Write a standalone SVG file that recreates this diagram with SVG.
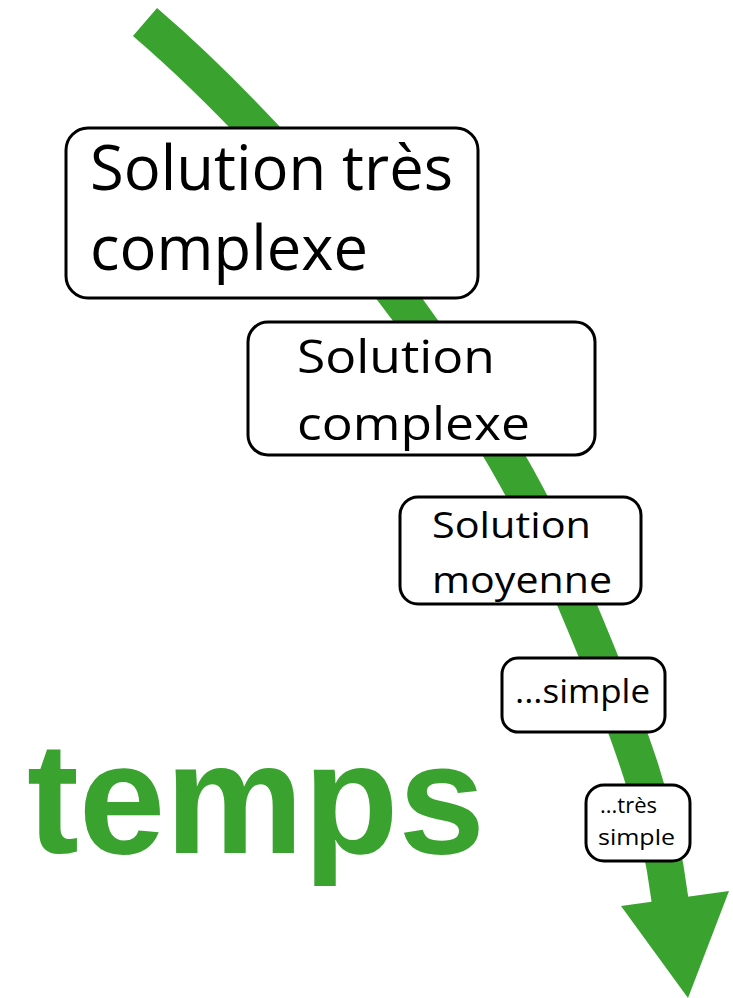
<svg xmlns="http://www.w3.org/2000/svg" width="733" height="998" viewBox="0 0 733 998">
<style>
.box{fill:#fff;stroke:#000;stroke-width:3}
.t{font-family:"Open Sans","Noto Sans","Liberation Sans",sans-serif;fill:#000}
</style>
<rect width="733" height="998" fill="#fff"/>
<g id="connectors">
<path d="M145,22 C300,155 480,380 560,565 S660,820 670,900" fill="none" stroke="#3aa22f" stroke-width="37"/>
<polygon points="621,906 729,891 688,998" fill="#3aa22f"/>
</g>
<g id="temps">
<text x="27" y="853" font-family="Liberation Sans,Arial,sans-serif" font-weight="bold" font-size="158" fill="#3aa22f" textLength="458" lengthAdjust="spacingAndGlyphs">temps</text>
</g>
<g id="n1">
<rect class="box" x="66" y="128" width="412" height="170" rx="22"/>
<text class="t" x="90" y="190" font-size="62" textLength="363" lengthAdjust="spacingAndGlyphs">Solution très</text>
<text class="t" x="90" y="270" font-size="62" textLength="278" lengthAdjust="spacingAndGlyphs">complexe</text>
</g>
<g id="n2">
<rect class="box" x="248" y="322" width="347" height="133" rx="20"/>
<text class="t" x="297" y="373" font-size="46" textLength="198" lengthAdjust="spacingAndGlyphs">Solution</text>
<text class="t" x="297" y="440" font-size="46" textLength="233" lengthAdjust="spacingAndGlyphs">complexe</text>
</g>
<g id="n3">
<rect class="box" x="400" y="497" width="241" height="107" rx="18"/>
<text class="t" x="432" y="538" font-size="37" textLength="159" lengthAdjust="spacingAndGlyphs">Solution</text>
<text class="t" x="432" y="593" font-size="37" textLength="180" lengthAdjust="spacingAndGlyphs">moyenne</text>
</g>
<g id="n4">
<rect class="box" x="502" y="658" width="163" height="74" rx="16"/>
<text class="t" x="515" y="703" font-size="33" textLength="135" lengthAdjust="spacingAndGlyphs">...simple</text>
</g>
<g id="n5">
<rect class="box" x="586" y="785" width="104" height="76" rx="18"/>
<text class="t" x="600" y="813" font-size="22" textLength="57" lengthAdjust="spacingAndGlyphs">...très</text>
<text class="t" x="598" y="845" font-size="22" textLength="77" lengthAdjust="spacingAndGlyphs">simple</text>
</g>
</svg>
